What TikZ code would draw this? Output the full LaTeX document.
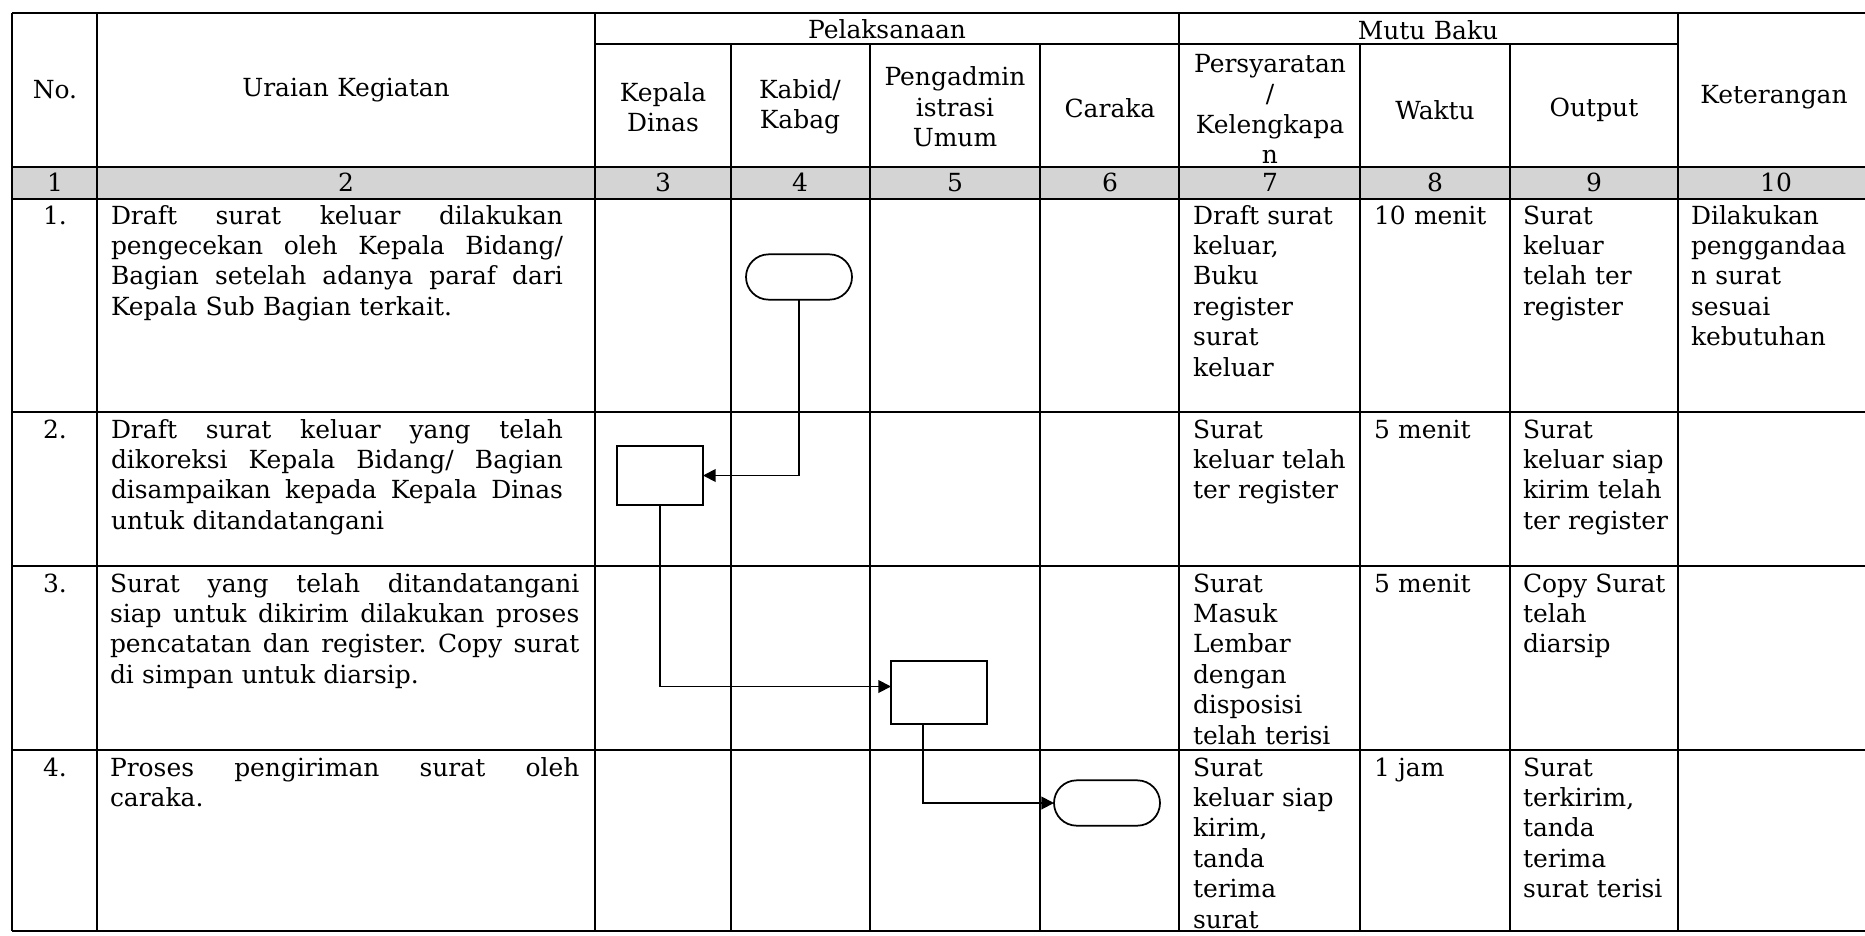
\documentclass[tikz,border=0pt]{standalone}
\usepackage{fontspec}
\setmainfont{DejaVu Serif}
\usetikzlibrary{arrows.meta,shapes.misc}
\newcommand{\jla}[1]{{\spaceskip=0.3333em plus 1fil\relax\makebox[339pt][s]{#1}}}
\newcommand{\jlb}[1]{{\spaceskip=0.3333em plus 1fil\relax\makebox[352pt][s]{#1}}}
\frenchspacing
\begin{document}
\frenchspacing
\begin{tikzpicture}[x=0.75pt,y=-0.75pt,
  every node/.style={inner sep=0pt,outer sep=0pt},
  txt/.style={font=\fontsize{18.7}{22.8}\selectfont\frenchspacing},
  grid/.style={line width=1.1pt},
  hd/.style={txt,align=center,anchor=center,text width=200pt},
  cell/.style={txt,anchor=base west,text width=#1,align=left},
  cell/.default=160pt,
  num/.style={txt,anchor=base},
  term/.style={rounded rectangle,draw,line width=1.3pt,minimum width=79.5pt,minimum height=34pt},
  proc/.style={rectangle,draw,line width=1.3pt},
  flow/.style={line width=1.4pt,-{Triangle[length=9.5pt,width=9.5pt]}}
]
\useasboundingbox (0,0) rectangle (1865,935);
\fill[white] (0,0) rectangle (1865,935);
% gray numbering row
\fill[black!17] (12,167) rectangle (1865,199);
% horizontal rules
\draw[grid] (12,13) -- (1865,13);
\draw[grid] (595,44) -- (1678,44);
\foreach \y in {167,199,412,566,750,931} \draw[grid] (12,\y) -- (1865,\y);
% vertical rules
\foreach \x in {12,97,595,1179,1678} \draw[grid] (\x,13) -- (\x,931);
\foreach \x in {731,870,1040,1360,1510} \draw[grid] (\x,44) -- (\x,931);

% header
\node[hd] (hNo) at (55,90) {No.};
\node[hd] (hUr) at (346,90) {Uraian Kegiatan};
\node[hd] (hPel) at (887,29) {Pelaksanaan};
\node[hd] (hKD) at (663,107) {Kepala\\Dinas};
\node[hd] (hKB) at (800,107) {Kabid/\\Kabag};
\node[hd] (hPA) at (955,107) {Pengadmin\\istrasi\\Umum};
\node[hd] (hCa) at (1110,108) {Caraka};
\node[hd] (hMB) at (1428,30) {Mutu Baku};
\node[hd] (hPe) at (1270,109) {Persyaratan\\/\\Kelengkapa\\n};
\node[hd] (hWa) at (1435,110) {Waktu};
\node[hd] (hOu) at (1594,110) {Output};
\node[hd] (hKe) at (1774,97) {Keterangan};

% numbering row
\node[num] (n1) at (55,191) {1};
\node[num] (n2) at (346,191) {2};
\node[num] (n3) at (663,191) {3};
\node[num] (n4) at (800,191) {4};
\node[num] (n5) at (955,191) {5};
\node[num] (n6) at (1110,191) {6};
\node[num] (n7) at (1270,191) {7};
\node[num] (n8) at (1435,191) {8};
\node[num] (n9) at (1594,191) {9};
\node[num] (n10) at (1776,191) {10};

% row numbers
\node[num] (r1) at (55,224) {1.};
\node[num] (r2) at (55,438) {2.};
\node[num] (r3) at (55,592) {3.};
\node[num] (r4) at (55,776) {4.};

% Uraian Kegiatan
\node[cell=339pt] (u1) at (111,224) {\jla{Draft surat keluar dilakukan}\\\jla{pengecekan oleh Kepala Bidang/}\\\jla{Bagian setelah adanya paraf dari}\\Kepala Sub Bagian terkait.};
\node[cell=339pt] (u2) at (111,438) {\jla{Draft surat keluar yang telah}\\\jla{dikoreksi Kepala Bidang/ Bagian}\\\jla{disampaikan kepada Kepala Dinas}\\untuk ditandatangani};
\node[cell=352pt] (u3) at (110,592) {\jlb{Surat yang telah ditandatangani}\\\jlb{siap untuk dikirim dilakukan proses}\\\jlb{pencatatan dan register. Copy surat}\\di simpan untuk diarsip.};
\node[cell=352pt] (u4) at (110,776) {\jlb{Proses pengiriman surat oleh}\\caraka.};

% Persyaratan / Kelengkapan
\node[cell] (k1) at (1193,224) {Draft surat\\keluar,\\Buku\\register\\surat\\keluar};
\node[cell] (k2) at (1193,438) {Surat\\keluar telah\\ter register};
\node[cell] (k3) at (1193,592) {Surat\\Masuk\\Lembar\\dengan\\disposisi\\telah terisi};
\node[cell] (k4) at (1193,776) {Surat\\keluar siap\\kirim,\\tanda\\terima\\surat};

% Waktu
\node[cell] (w1) at (1374,224) {10 menit};
\node[cell] (w2) at (1374,438) {5 menit};
\node[cell] (w3) at (1374,592) {5 menit};
\node[cell] (w4) at (1374,776) {1 jam};

% Output
\node[cell] (o1) at (1523,224) {Surat\\keluar\\telah ter\\register};
\node[cell] (o2) at (1523,438) {Surat\\keluar siap\\kirim telah\\ter register};
\node[cell] (o3) at (1523,592) {Copy Surat\\telah\\diarsip};
\node[cell] (o4) at (1523,776) {Surat\\terkirim,\\tanda\\terima\\surat terisi};

% Keterangan
\node[cell] (ke1) at (1691,224) {Dilakukan\\penggandaa\\n surat\\sesuai\\kebutuhan};

% flowchart
\node[term] (t1) at (799,277) {};
\node[proc,minimum width=64.5pt,minimum height=44.25pt] (p1) at (660,475.5) {};
\node[proc,minimum width=72pt,minimum height=47.25pt] (p2) at (939,692.5) {};
\node[term] (t2) at (1107,803) {};
\draw[flow] (t1.south) |- (p1.east);
\draw[flow] (p1.south) |- ([yshift=4.5pt]p2.west);
\draw[flow] ([xshift=-12pt]p2.south) |- (t2.west);
\end{tikzpicture}
\end{document}
